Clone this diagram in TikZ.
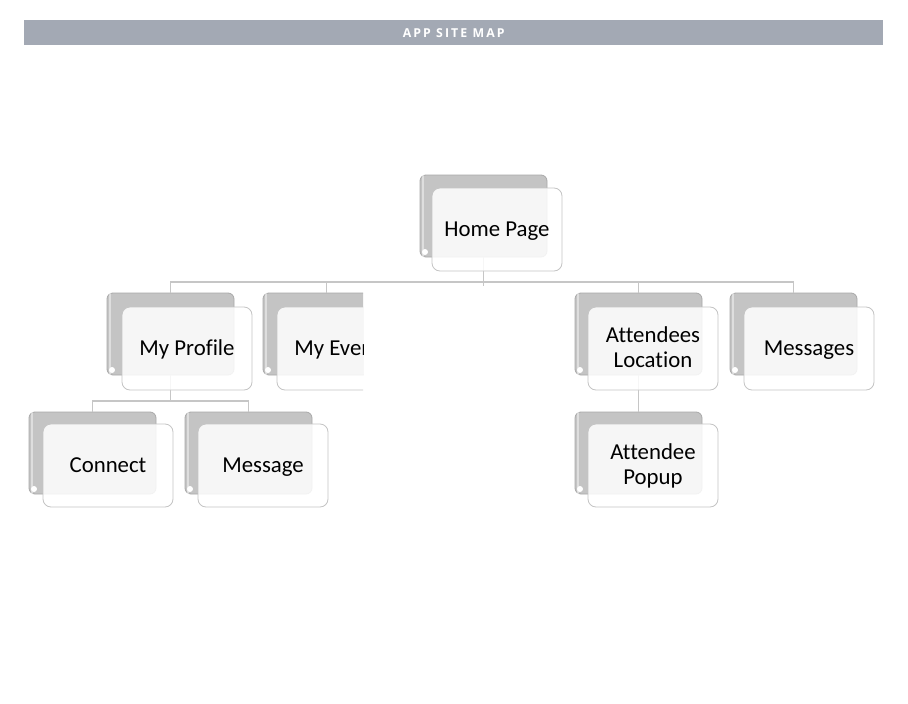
\documentclass[tikz,border=0pt]{standalone}
\usepackage{fontspec}
\setmainfont[Ligatures=NoCommon]{Carlito}
\newfontfamily\headfont[LetterSpace=17]{Open Sans}
\usetikzlibrary{calc}
\definecolor{barcol}{HTML}{A3A9B4}
\definecolor{backcol}{HTML}{C4C4C4}
\definecolor{backedge}{HTML}{A9A9A9}
\definecolor{frontedge}{HTML}{C4C4C4}
\definecolor{conncol}{HTML}{C6C6C6}
\tikzset{
  backbox/.style={draw=backedge, fill=backcol, rounded corners=6pt, line width=0.8pt,
    minimum width=127pt, minimum height=82pt, anchor=north west, inner sep=0pt, outer sep=0pt},
  frontbox/.style={draw=frontedge, fill=white, fill opacity=0.85, text opacity=1,
    rounded corners=8pt, line width=0.8pt, minimum width=130pt, minimum height=83pt,
    anchor=north west, inner sep=2pt, outer sep=0pt, align=center,
    font=\fontsize{22.8}{25}\selectfont},
  conn/.style={draw=conncol, line width=1.3pt},
  hilite/.style={draw=white, line width=1.8pt, opacity=0.7, line cap=round}
}
\newcommand\backdeco[1]{%
  \draw[hilite] ($(#1.north west)+(7,-3)$) -- ($(#1.north east)+(-7,-3)$);
  \draw[hilite, opacity=0.45] ($(#1.north west)+(3,-7)$) -- ($(#1.south west)+(3,7)$);
  \fill[white] ($(#1.south west)+(5,-5)$) circle (3pt);
}
\newcommand\strutline[1]{\rule[-6pt]{0pt}{25pt}#1}
\begin{document}
\begin{tikzpicture}[x=1pt,y=-1pt]
\useasboundingbox (0,0) rectangle (908,704);
\fill[white] (0,0) rectangle (908,704);
% header
\node[fill=barcol, minimum width=859pt, minimum height=25pt, inner sep=0pt, anchor=north west,
  text=white, font=\headfont\bfseries\fontsize{12.3}{14}\selectfont] (hdr) at (24,20) {APP SITE MAP};

% back boxes
\node[backbox] (hpB) at (420,175) {};
\node[backbox] (mpB) at (107,293) {};
\node[backbox] (alB) at (575,293) {};
\node[backbox] (msB) at (730,293) {};
\node[backbox] (apB) at (575,412) {};
\node[backbox] (cnB) at (29,412) {};
\node[backbox] (mgB) at (185,412) {};
\begin{scope}
  \clip (0,0) rectangle (363,704);
  \node[backbox] (meB) at (263,293) {};
  \backdeco{meB}
\end{scope}
\backdeco{hpB}\backdeco{mpB}\backdeco{alB}\backdeco{msB}\backdeco{apB}\backdeco{cnB}\backdeco{mgB}

% connectors
\coordinate (bus) at (0,282);
\coordinate (bus2) at (0,401);
\draw[conn] (hpB.south) -- ([yshift=-4pt]hpB.south |- bus);
\draw[conn] (mpB.north) |- (msB.north |- bus) -- (msB.north);
\draw[conn] (meB.north) -- (meB.north |- bus);
\draw[conn] (alB.north) -- (alB.north |- bus);
\draw[conn] (mpB.south) -- (mpB.south |- bus2);
\draw[conn] (cnB.north) |- (mgB.north |- bus2) -- (mgB.north);
\draw[conn] (alB.south) -- (apB.north);

% front boxes
\node[frontbox] (hp) at (432,188) {\strutline{Home Page}};
\node[frontbox] (mp) at (122,307) {\strutline{My Profile}};
\node[frontbox] (al) at (588,307) {\strutline{Attendees}\\\strutline{Location}};
\node[frontbox] (ms) at (744,307) {\strutline{Messages}};
\node[frontbox] (ap) at (588,424) {\strutline{Attendee}\\\strutline{Popup}};
\node[frontbox] (cn) at (43,424) {\strutline{Connect}};
\node[frontbox] (mg) at (198,424) {\strutline{Message}};
\begin{scope}
  \clip (0,0) rectangle (363,704);
  \node[frontbox] (me) at (277,307) {\strutline{My Events}};
\end{scope}
\end{tikzpicture}
\end{document}
